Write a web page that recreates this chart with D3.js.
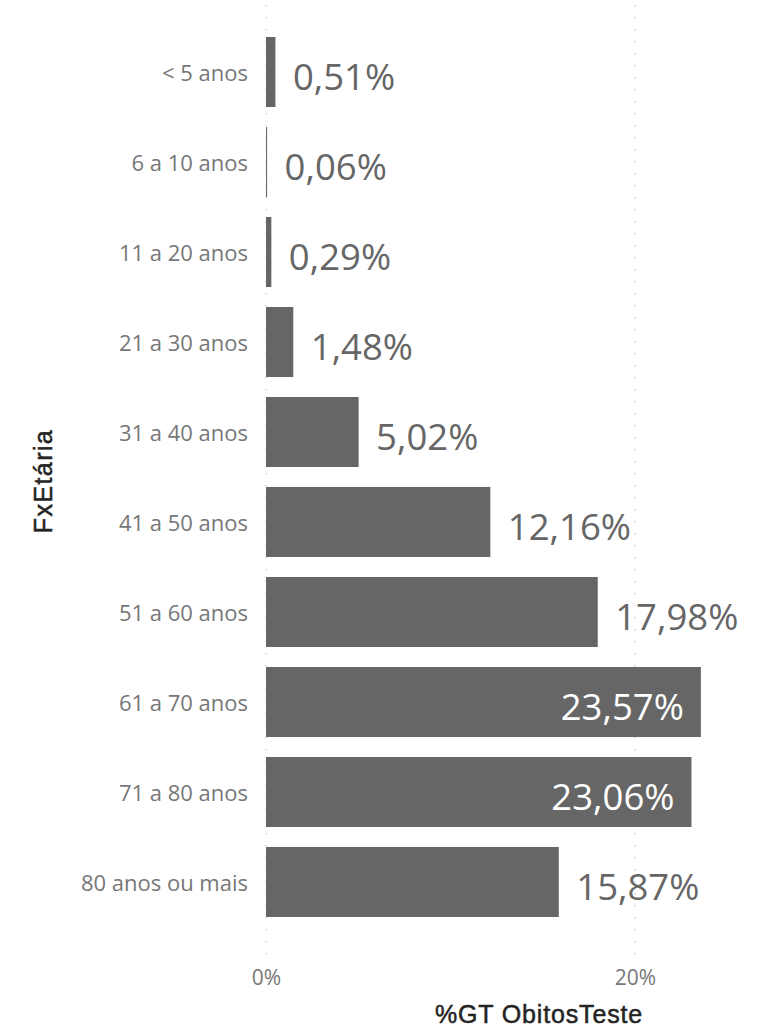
<!DOCTYPE html>
<html><head><meta charset="utf-8">
<script src="https://cdn.jsdelivr.net/npm/d3@7"></script>
<style>body{margin:0;background:#fff}</style>
</head><body>
<svg id="c" width="767" height="1027"></svg>
<script>
const categories = ["< 5 anos","6 a 10 anos","11 a 20 anos","21 a 30 anos","31 a 40 anos","41 a 50 anos","51 a 60 anos","61 a 70 anos","71 a 80 anos","80 anos ou mais"];
const values = [0.51,0.06,0.29,1.48,5.02,12.16,17.98,23.57,23.06,15.87];
const valueLabels = ["0,51%","0,06%","0,29%","1,48%","5,02%","12,16%","17,98%","23,57%","23,06%","15,87%"];
const xTicks = [0,20];
const xTickLabels = ["0%","20%"];
const insideThreshold = 20;

const svg = d3.select("#c");
const x = d3.scaleLinear().domain([0,20]).range([266,635]);
const y = d3.scaleBand().domain(categories).range([27,927]).paddingInner(0.222).paddingOuter(0.111);

// gridlines
svg.append("g").selectAll("line").data(xTicks).join("line")
  .attr("x1",d=>x(d)).attr("x2",d=>x(d)).attr("y1",5).attr("y2",962)
  .attr("stroke","#c8c8c8").attr("stroke-width",1.3).attr("stroke-dasharray","1.3,10.7");

// x axis tick labels
const xAxis = d3.axisBottom(x).tickValues(xTicks).tickFormat((d,i)=>xTickLabels[i]).tickSize(0).tickPadding(0);
const gx = svg.append("g").attr("transform","translate(0,985)").call(xAxis);
gx.select(".domain").remove();
gx.selectAll("text").attr("font-family","'Open Sans', sans-serif").attr("font-size",21).attr("fill","#777").attr("dy","0");

// y axis labels
const yAxis = d3.axisLeft(y).tickSize(0).tickPadding(0);
const gy = svg.append("g").attr("transform","translate(248,0)").call(yAxis);
gy.select(".domain").remove();
gy.selectAll("text").attr("font-family","'Open Sans', sans-serif").attr("font-size",22).attr("fill","#777").attr("dy","9");

// bars
svg.append("g").selectAll("rect").data(values).join("rect")
  .attr("x",x(0)).attr("y",(d,i)=>y(categories[i]))
  .attr("width",d=>x(d)-x(0)).attr("height",y.bandwidth())
  .attr("fill","#666666");

// value labels
svg.append("g").selectAll("text").data(values).join("text")
  .attr("x",d=> d>insideThreshold ? x(d)-17 : x(d)+17.5)
  .attr("y",(d,i)=>y(categories[i])+y.bandwidth()/2+18)
  .attr("text-anchor",d=> d>insideThreshold ? "end":"start")
  .attr("font-family","'Open Sans', sans-serif").attr("font-size",36.5)
  .attr("fill",d=> d>insideThreshold ? "#ffffff":"#666666")
  .text((d,i)=>valueLabels[i]);

// axis titles
svg.append("text").attr("x",539).attr("y",1023).attr("text-anchor","middle")
  .attr("font-family","'Liberation Sans Narrow', 'Liberation Sans', sans-serif").attr("font-size",25)
  .attr("letter-spacing",0.85).attr("fill","#252423").attr("stroke","#252423").attr("stroke-width",0.5)
  .text("%GT ObitosTeste");
svg.append("text").attr("transform","translate(52,481) rotate(-90)").attr("text-anchor","middle")
  .attr("font-family","'Liberation Sans Narrow', 'Liberation Sans', sans-serif").attr("font-size",25)
  .attr("letter-spacing",1.4).attr("fill","#252423").attr("stroke","#252423").attr("stroke-width",0.5)
  .text("FxEtária");
</script>
</body></html>
